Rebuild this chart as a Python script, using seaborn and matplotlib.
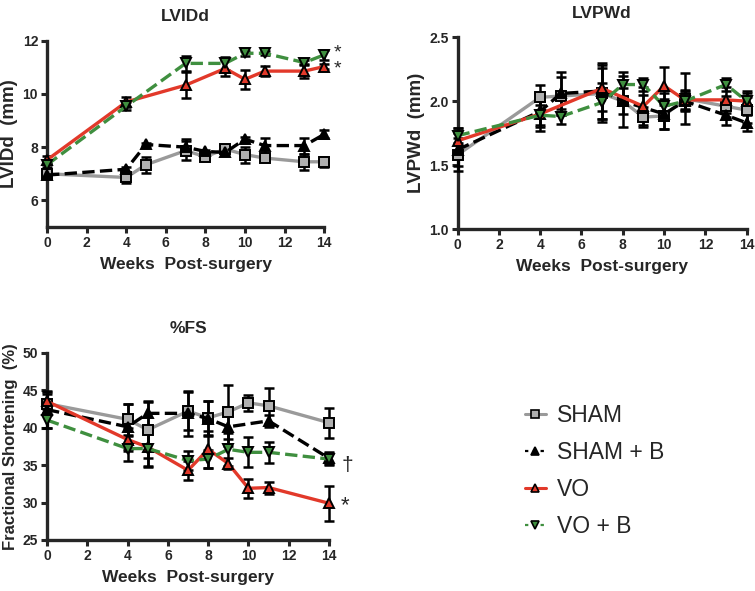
import numpy as np
import matplotlib
matplotlib.use("Agg")
import matplotlib.pyplot as plt
from matplotlib.lines import Line2D
import seaborn as sns

# Weeks post-surgery (all time points; missing values are NaN)
weeks = [0, 4, 5, 7, 8, 9, 10, 11, 13, 14]
nan = np.nan

# LVIDd (mm)
lvidd_sham = [7.0, 6.86, 7.34, 7.87, 7.64, 7.93, 7.72, 7.59, 7.45, 7.45]
lvidd_sham_err = [0.15, 0.2, 0.3, 0.35, 0.08, 0.1, 0.3, 0.12, 0.3, 0.18]
lvidd_shamb = [6.95, 7.17, 8.1, 8.0, 7.84, 7.8, 8.3, 8.06, 8.06, 8.48]
lvidd_shamb_err = [0.12, 0.1, 0.05, 0.3, 0.05, 0.1, 0.1, 0.3, 0.3, 0.15]
lvidd_vo = [7.52, 9.7, nan, 10.33, nan, 10.96, 10.55, 10.86, 10.86, 11.03]
lvidd_vo_err = [0.15, 0.2, nan, 0.5, nan, 0.3, 0.35, 0.2, 0.25, 0.1]
lvidd_vob = [7.34, 9.54, nan, 11.15, nan, 11.15, 11.53, 11.53, 11.18, 11.47]
lvidd_vob_err = [0.1, 0.15, nan, 0.28, nan, 0.25, 0.1, 0.08, 0.1, 0.2]

# LVPWd (mm)
lvpwd_sham = [1.58, 2.03, 2.04, 2.06, 2.0, 1.875, 1.885, 2.02, 1.96, 1.93]
lvpwd_sham_err = [0.13, 0.1, 0.15, 0.2, 0.2, 0.08, 0.1, 0.2, 0.08, 0.1]
lvpwd_shamb = [1.62, 1.92, 2.06, 2.08, 2.0, 1.95, 1.9, 2.0, 1.89, 1.83]
lvpwd_shamb_err = [0.13, 0.15, 0.17, 0.22, 0.1, 0.1, 0.12, 0.08, 0.08, 0.06]
lvpwd_vo = [1.69, 1.9, nan, 2.1, nan, 1.96, 2.12, 2.01, 2.01, 2.0]
lvpwd_vo_err = [0.1, 0.1, nan, 0.18, nan, 0.15, 0.15, 0.08, 0.1, 0.08]
lvpwd_vob = [1.73, 1.89, 1.88, 1.99, 2.13, 2.13, 1.96, 2.0, 2.13, 2.0]
lvpwd_vob_err = [0.06, 0.08, 0.06, 0.15, 0.1, 0.05, 0.1, 0.06, 0.05, 0.06]

# Fractional shortening (%)
fs_sham = [43.2, 41.1, 39.7, 42.2, 41.3, 42.1, 43.3, 42.9, nan, 40.65]
fs_sham_err = [1.5, 2.1, 3.7, 2.5, 2.3, 3.6, 1.1, 2.4, nan, 2.0]
fs_shamb = [42.4, 40.1, 41.9, 41.9, 41.2, 40.1, nan, 40.9, nan, 35.9]
fs_shamb_err = [2.5, 3.0, 1.6, 3.0, 2.3, 2.5, nan, 0.8, nan, 0.8]
fs_vo = [43.5, 38.4, 37.4, 34.3, 37.1, 35.2, 31.9, 32.0, nan, 29.9]
fs_vo_err = [1.0, 1.5, 2.5, 1.3, 2.5, 0.7, 1.3, 0.8, nan, 2.3]
fs_vob = [41.0, 37.2, 37.2, 35.6, 35.8, 37.1, 36.7, 36.7, nan, 35.8]
fs_vob_err = [1.0, 1.7, 2.5, 1.3, 1.2, 2.2, 2.0, 1.4, nan, 0.8]

groups = ["SHAM", "SHAM + B", "VO", "VO + B"]

# estilo de cada grupo
styles = {
    "SHAM": dict(color="#9a9a9a", ls="-", marker="s", mfc="#b0b0b0", ms=6.5, dashes=None),
    "SHAM + B": dict(color="black", ls="--", marker="^", mfc="black", ms=7, dashes=(3.5, 2)),
    "VO": dict(color="#e2392a", ls="-", marker="^", mfc="#e2392a", ms=7, dashes=None),
    "VO + B": dict(color="#3f8f3f", ls="--", marker="v", mfc="#3f8f3f", ms=7, dashes=(2.5, 2)),
}

sns.set_style("ticks")
plt.rcParams["font.family"] = ["Liberation Sans", "DejaVu Sans"]

fig = plt.figure(figsize=(7.55, 5.91), dpi=100)
ax1 = fig.add_axes([0.0623, 0.616, 0.367, 0.315])
ax2 = fig.add_axes([0.606, 0.6125, 0.383, 0.3245])
ax3 = fig.add_axes([0.0623, 0.0863, 0.3735, 0.317])


def draw_panel(ax, series, ylim, yticks, title, ylabel, yfmt, ylabel_size):
    for g, (vals, errs) in zip(groups, series):
        st = styles[g]
        x = np.array(weeks, dtype=float)
        y = np.array(vals, dtype=float)
        e = np.array(errs, dtype=float)
        ok = ~np.isnan(y)
        ax.errorbar(x[ok], y[ok], yerr=e[ok], fmt="none", ecolor="black",
                    elinewidth=1.8, capsize=3.3, capthick=1.8, clip_on=False, zorder=3)
        kw = dict(color=st["color"], linestyle=st["ls"], linewidth=2.4,
                  marker=st["marker"], markersize=st["ms"], markerfacecolor=st["mfc"],
                  markeredgecolor="black", markeredgewidth=1.4, clip_on=False, zorder=4)
        if st["dashes"] is not None:
            kw["dashes"] = st["dashes"]
        sns.lineplot(x=x[ok], y=y[ok], ax=ax, sort=False, **kw)
    ax.set_xlim(0, 14)
    ax.set_ylim(*ylim)
    ax.set_xticks(range(0, 15, 2))
    ax.set_yticks(yticks)
    ax.set_yticklabels([yfmt % v for v in yticks])
    for lab in ax.get_xticklabels() + ax.get_yticklabels():
        lab.set_fontweight("bold")
        lab.set_fontsize(10)
    ax.tick_params(width=2.2, length=4.5, pad=2)
    for s in ["left", "bottom"]:
        ax.spines[s].set_linewidth(2.4)
    sns.despine(ax=ax)
    ax.set_title(title, fontsize=12.5, fontweight="bold", pad=14)
    ax.set_xlabel("Weeks  Post-surgery", fontsize=12.5, fontweight="bold", labelpad=5)
    ax.set_ylabel(ylabel, fontsize=ylabel_size, fontweight="bold", labelpad=3)


draw_panel(ax1,
           [(lvidd_sham, lvidd_sham_err), (lvidd_shamb, lvidd_shamb_err),
            (lvidd_vo, lvidd_vo_err), (lvidd_vob, lvidd_vob_err)],
           (5, 12), [6, 8, 10, 12], "LVIDd", "LVIDd  (mm)", "%d", 13.5)
draw_panel(ax2,
           [(lvpwd_sham, lvpwd_sham_err), (lvpwd_shamb, lvpwd_shamb_err),
            (lvpwd_vo, lvpwd_vo_err), (lvpwd_vob, lvpwd_vob_err)],
           (1.0, 2.5), [1.0, 1.5, 2.0, 2.5], "LVPWd", "LVPWd  (mm)", "%.1f", 13.5)
draw_panel(ax3,
           [(fs_sham, fs_sham_err), (fs_shamb, fs_shamb_err),
            (fs_vo, fs_vo_err), (fs_vob, fs_vob_err)],
           (25, 50), [25, 30, 35, 40, 45, 50], "%FS", "Fractional Shortening  (%)", "%d", 12)

# marcas de significancia
ax1.text(14.5, 11.55, "*", fontsize=14, ha="left", va="center", clip_on=False)
ax1.text(14.5, 10.93, "*", fontsize=14, ha="left", va="center", clip_on=False)
ax3.text(14.6, 35.0, "†", fontsize=15, ha="left", va="center", clip_on=False)
ax3.text(14.6, 29.6, "*", fontsize=16, ha="left", va="center", clip_on=False)

# legenda
handles = []
for g in groups:
    st = styles[g]
    kw = dict(color=st["color"], linestyle=st["ls"], linewidth=2.2, marker=st["marker"],
              markersize=st["ms"] - 1, markerfacecolor=st["mfc"], markeredgecolor="black",
              markeredgewidth=1.2)
    if st["dashes"] is not None:
        kw["dashes"] = (1.5, 2)
        kw["linewidth"] = 1.6
    handles.append(Line2D([], [], **kw))
fig.legend(handles, groups, loc="upper left", bbox_to_anchor=(0.668, 0.352),
           frameon=False, fontsize=16.5, handlelength=0.9, handletextpad=0.5,
           labelspacing=0.62)

plt.savefig("out.png", dpi=100)
plt.close()
